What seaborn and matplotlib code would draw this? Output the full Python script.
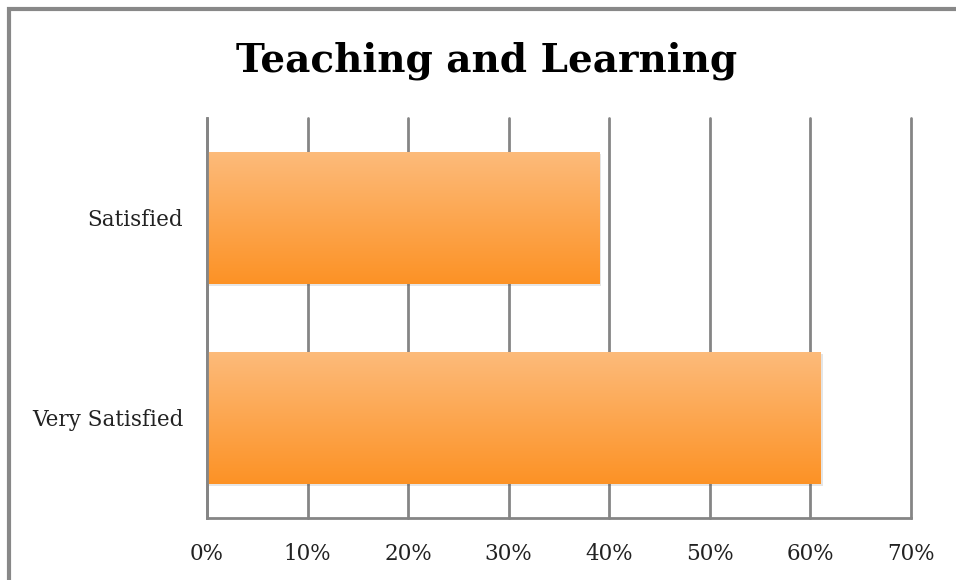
import matplotlib
matplotlib.use("Agg")
import matplotlib.pyplot as plt
import matplotlib.patheffects as pe
import numpy as np
import pandas as pd
import seaborn as sns
from matplotlib.colors import LinearSegmentedColormap
from matplotlib.patches import Rectangle

categories = ["Satisfied", "Very Satisfied"]
shares = [0.39, 0.61]
tick_values = [0.0, 0.1, 0.2, 0.3, 0.4, 0.5, 0.6, 0.7]
tick_labels = ["0%", "10%", "20%", "30%", "40%", "50%", "60%", "70%"]
title = "Teaching and Learning"

sns.set_theme(style="white")
plt.rcParams["font.family"] = ["DejaVu Serif"]

df = pd.DataFrame({"category": categories, "share": shares})

fig = plt.figure(figsize=(9.56, 5.8), dpi=100)
ax = fig.add_axes([0.2165, 0.1069, 0.7364, 0.6897])

sns.barplot(data=df, x="share", y="category", order=categories,
            color="#FDA452", width=0.66, ax=ax, saturation=1)

# orange vertical gradient clipped to each bar, plus soft shadow
grad = LinearSegmentedColormap.from_list("og", ["#FC9225", "#FDBB7B"])
for bar in ax.patches:
    x0, y0 = bar.get_x(), bar.get_y()
    w, h = bar.get_width(), bar.get_height()
    bar.set_path_effects([pe.SimplePatchShadow(offset=(1.5, -1.5), alpha=0.15,
                                               shadow_rgbFace="#555555"),
                          pe.Normal()])
    bar.set_edgecolor("none")
    img = ax.imshow(np.linspace(0, 1, 256).reshape(-1, 1), cmap=grad,
                    extent=[x0, x0 + w, y0 + h, y0], aspect="auto",
                    origin="lower", zorder=bar.get_zorder() + 0.1)
    img.set_clip_path(bar)

ax.set_xlim(0, 0.7)
ax.set_ylim(1.5, -0.5)
ax.set_xticks(tick_values)
ax.set_xticklabels(tick_labels, fontsize=15.5, color="#222222")
ax.tick_params(axis="y", labelsize=15.5, colors="#222222", length=0, pad=17)
ax.tick_params(axis="x", length=0, pad=18)
ax.set_xlabel("")
ax.set_ylabel("")
ax.xaxis.grid(True, color="#858585", linewidth=2)
for gl in ax.get_xgridlines():
    gl.set_clip_on(False)
ax.set_axisbelow(True)
for side in ["top", "right"]:
    ax.spines[side].set_visible(False)
for side in ["left", "bottom"]:
    ax.spines[side].set_color("#858585")
    ax.spines[side].set_linewidth(2)

fig.text(0.5094, 0.895, title, ha="center", va="center",
         fontsize=28, fontweight="bold", color="black")

# outer chart border (left and top edges visible)
fig.patches.append(Rectangle((9 / 956, -0.05), 1.2, 0.05 + 571 / 580,
                             transform=fig.transFigure, fill=False,
                             edgecolor="#888888", linewidth=3))

fig.savefig("out.png", dpi=100)
